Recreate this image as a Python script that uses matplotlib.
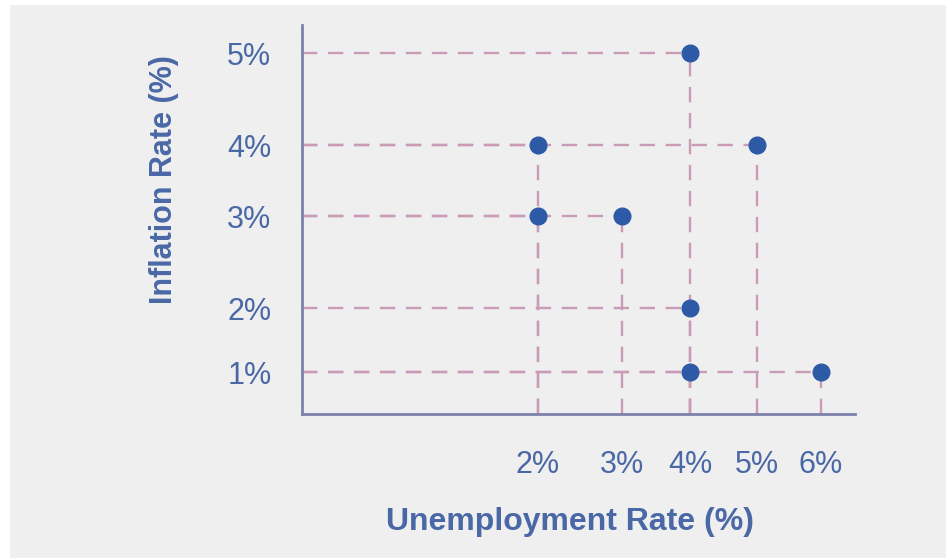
import numpy as np
import matplotlib
matplotlib.use("Agg")
import matplotlib.pyplot as plt
from matplotlib.patches import Rectangle

# data
unemployment = [4, 2, 5, 2, 3, 4, 4, 6]
inflation = [5, 4, 4, 3, 3, 2, 1, 1]
x_ticks = [2, 3, 4, 5, 6]
y_ticks = [1, 2, 3, 4, 5]
x_tick_labels = ["2%", "3%", "4%", "5%", "6%"]
y_tick_labels = ["1%", "2%", "3%", "4%", "5%"]

# uneven axis spacing of the original drawing (value -> pixel offset from origin)
x_anchor_vals = [0, 2, 3, 4, 5, 6, 7]
x_anchor_pix = [0, 236, 320, 388, 455, 519, 583]
y_anchor_vals = [0, 1, 2, 3, 4, 5, 6]
y_anchor_pix = [0, 42, 106, 198, 269, 361, 453]


def make_scale(vals, pix):
    fwd = lambda v: np.interp(v, vals, pix)
    inv = lambda p: np.interp(p, pix, vals)
    return fwd, inv


dash_color = "#c99bb7"
dot_color = "#2d5aa6"
text_color = "#4a68a6"
axis_color = "#7c82aa"

W, H = 946, 558
fig = plt.figure(figsize=(W / 100, H / 100), dpi=100, facecolor="white")
fig.patches.append(Rectangle((10 / W, 0), 1, 1 - 5 / H, transform=fig.transFigure,
                             facecolor="#efefef", edgecolor="none", zorder=-5))

# axes box in pixels: left 302, right 855, top 25, bottom 414
ax = fig.add_axes([302 / W, (H - 414) / H, (855 - 302) / W, (414 - 25) / H])
ax.set_facecolor("none")
ax.set_xscale("function", functions=make_scale(x_anchor_vals, x_anchor_pix))
ax.set_yscale("function", functions=make_scale(y_anchor_vals, y_anchor_pix))
ax.set_xlim(0, np.interp(553, x_anchor_pix, x_anchor_vals))
ax.set_ylim(0, np.interp(389, y_anchor_pix, y_anchor_vals))

# dashed guide lines to both axes
for x, y in zip(unemployment, inflation):
    ax.plot([0, x], [y, y], ls=(0, (6.5, 4.5)), color=dash_color, lw=1.7, zorder=2)
    ax.plot([x, x], [0, y], ls=(0, (6.5, 4.5)), color=dash_color, lw=1.7, zorder=2)

ax.plot(unemployment, inflation, "o", color=dot_color, ms=12, zorder=3, clip_on=False)

for side in ["top", "right"]:
    ax.spines[side].set_visible(False)
for side in ["left", "bottom"]:
    ax.spines[side].set_color(axis_color)
    ax.spines[side].set_linewidth(2)

ax.set_xticks(x_ticks)
ax.set_xticklabels(x_tick_labels)
ax.set_yticks(y_ticks)
ax.set_yticklabels(y_tick_labels)
ax.tick_params(length=0, labelsize=22, labelcolor=text_color)
ax.tick_params(axis="x", pad=26)
ax.tick_params(axis="y", pad=22)
for lbl in ax.get_xticklabels() + ax.get_yticklabels():
    lbl.set_fontfamily("Liberation Sans")

fig.text(570 / W, 1 - 522 / H, "Unemployment Rate (%)", ha="center", va="center",
         fontsize=23, fontweight="bold", color=text_color, family="Liberation Sans")
fig.text(164 / W, 1 - 180 / H, "Inflation Rate (%)", ha="center", va="center",
         rotation=90, fontsize=22, fontweight="bold", color=text_color,
         family="Liberation Sans")

fig.savefig("out.png", dpi=100, facecolor=fig.get_facecolor())
